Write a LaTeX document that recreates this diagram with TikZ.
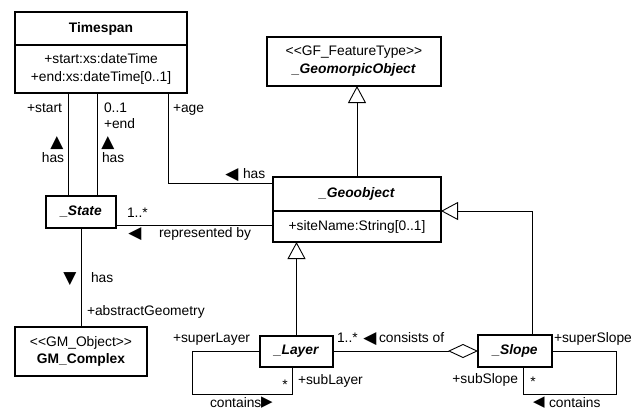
\documentclass[tikz,border=0pt]{standalone}
\usepackage{fontspec}
\setmainfont{Liberation Sans}
\newfontfamily\symfont{DejaVu Sans}
\usetikzlibrary{arrows.meta,calc}

\begin{document}
\begin{tikzpicture}[x=1pt,y=-1pt,
  every node/.style={font=\fontsize{13.8}{17.5}\selectfont, inner sep=0pt, outer sep=0pt},
  box/.style={draw, line width=2pt, align=center},
  conn/.style={line width=0.9pt},
  lbl/.style={text height=10pt, text depth=3pt},
  gen/.style={conn, -{Triangle[open,length=17pt,width=18pt]}},
  agg/.style={conn, {Diamond[open,length=30pt,width=14pt]}-},
  tri/.style={font=\symfont\fontsize{17}{18}\selectfont},
  trismall/.style={font=\symfont\fontsize{15}{16}\selectfont}
]
\useasboundingbox (0,0) rectangle (639,410);
\fill[white] (0,0) rectangle (639,410);

% classes
\node[box, minimum width=172pt, minimum height=33pt] (tsT) at (101,28.5) {\textbf{Timespan}};
\node[box, minimum width=172pt, minimum height=48pt, anchor=north] (tsA) at (tsT.south)
  {+start:xs:dateTime\\+end:xs:dateTime[0..1]};
\node[box, minimum width=174pt, minimum height=49pt, font=\fontsize{13.8}{18}\selectfont] (go) at (354,61.5)
  {<{}<GF\_FeatureType>{}>\\\textbf{\textit{\_GeomorpicObject}}};
\node[box, minimum width=168pt, minimum height=34pt] (geoT) at (357,194) {\textbf{\textit{\_Geoobject}}};
\node[box, minimum width=168pt, minimum height=31pt, anchor=north] (geoA) at (geoT.south) {+siteName:String[0..1]};
\node[box, minimum width=70pt, minimum height=32pt] (state) at (81,212) {\textbf{\textit{\_State}}};
\node[box, minimum width=132pt, minimum height=49pt] (gm) at (81,351.5)
  {<{}<GM\_Object>{}>\\\textbf{GM\_Complex}};
\node[box, minimum width=73pt, minimum height=31pt] (layer) at (296.5,351.5) {\textbf{\textit{\_Layer}}};
\node[box, minimum width=74pt, minimum height=32pt] (slope) at (515,351) {\textbf{\textit{\_Slope}}};

% connector end points on the boxes
\coordinate (s1) at ($(state.north)+(-13,0)$);
\coordinate (s2) at ($(state.north)+(16,0)$);
\coordinate (t3) at ($(tsA.south west)+(153,0)$);
\coordinate (g1) at ($(geoT.north west)+(0,6)$);
\coordinate (r1) at ($(state.south east)+(0,-3)$);
\coordinate (sl) at ($(slope.north)+(17,0)$);
\coordinate (lb) at ($(layer.south)+(-4.5,0)$);
\coordinate (sb) at ($(slope.south)+(8,0)$);

% associations
\draw[conn] (s1) -- (s1 |- tsA.south);
\draw[conn] (s2) -- (s2 |- tsA.south);
\draw[conn] (t3) |- (g1);
\draw[conn] (r1) -- (r1 -| geoA.west);
\draw[conn] (state.south) -- (state.south |- gm.north);
\draw[agg] (slope.west) -- (slope.west -| layer.east);
\draw[conn] (layer.west) -- ++(-68,0) |- ($(lb)+(0,27)$) -- (lb);
\draw[conn] (slope.east) -- ++(64,0) |- ($(sb)+(0,27)$) -- (sb);

% generalizations
\draw[gen] (geoT.north) -- (geoT.north |- go.south);
\draw[gen] (layer.north) -- (layer.north |- geoA.south);
\draw[gen] (sl) |- (geoT.south east);

% role names, multiplicities and association names
\node[lbl, anchor=east] (l1) at (62,109) {+start};
\node[lbl, anchor=west] (l2) at (104,109) {0..1};
\node[lbl, anchor=west] (l3) at (104,125) {+end};
\node[lbl, anchor=west] (l4) at (173,109) {+age};
\node[tri] (a1) at (57,143) {▲};
\node[lbl] (l5) at (53,159) {has};
\node[tri] (a2) at (108,143) {▲};
\node[lbl, anchor=west] (l6) at (102,159) {has};
\node[tri] (a3) at (232,175) {◀};
\node[lbl, anchor=west] (l7) at (243,175) {has};
\node[lbl, anchor=west] (l8) at (127,214) {1..*};
\node[tri] (a4) at (135,234) {◀};
\node[lbl, anchor=west] (l9) at (159,234) {represented by};
\node[tri] (a5) at (70,279) {▼};
\node[lbl, anchor=west] (l10) at (91,279) {has};
\node[lbl, anchor=west] (l11) at (87,312) {+abstractGeometry};
\node[lbl, anchor=west] (l12) at (173,339) {+superLayer};
\node[lbl] (l13) at (285,386) {*};
\node[lbl, anchor=west] (l14) at (298,381) {+subLayer};
\node[anchor=west] (l15) at (210,402.5) {contains};
\node[trismall] (a6) at (267,402.5) {▶};
\node[lbl, anchor=west] (l16) at (337,339) {1..*};
\node[tri] (a7) at (370,339) {◀};
\node[lbl, anchor=west] (l17) at (379,339) {consists of};
\node[lbl, anchor=west] (l18) at (554,339) {+superSlope};
\node[lbl, anchor=east] (l19) at (518,380) {+subSlope};
\node[lbl] (l20) at (533,383) {*};
\node[trismall] (a8) at (539,402.5) {◀};
\node[anchor=west] (l21) at (549,402.5) {contains};
\end{tikzpicture}
\end{document}
